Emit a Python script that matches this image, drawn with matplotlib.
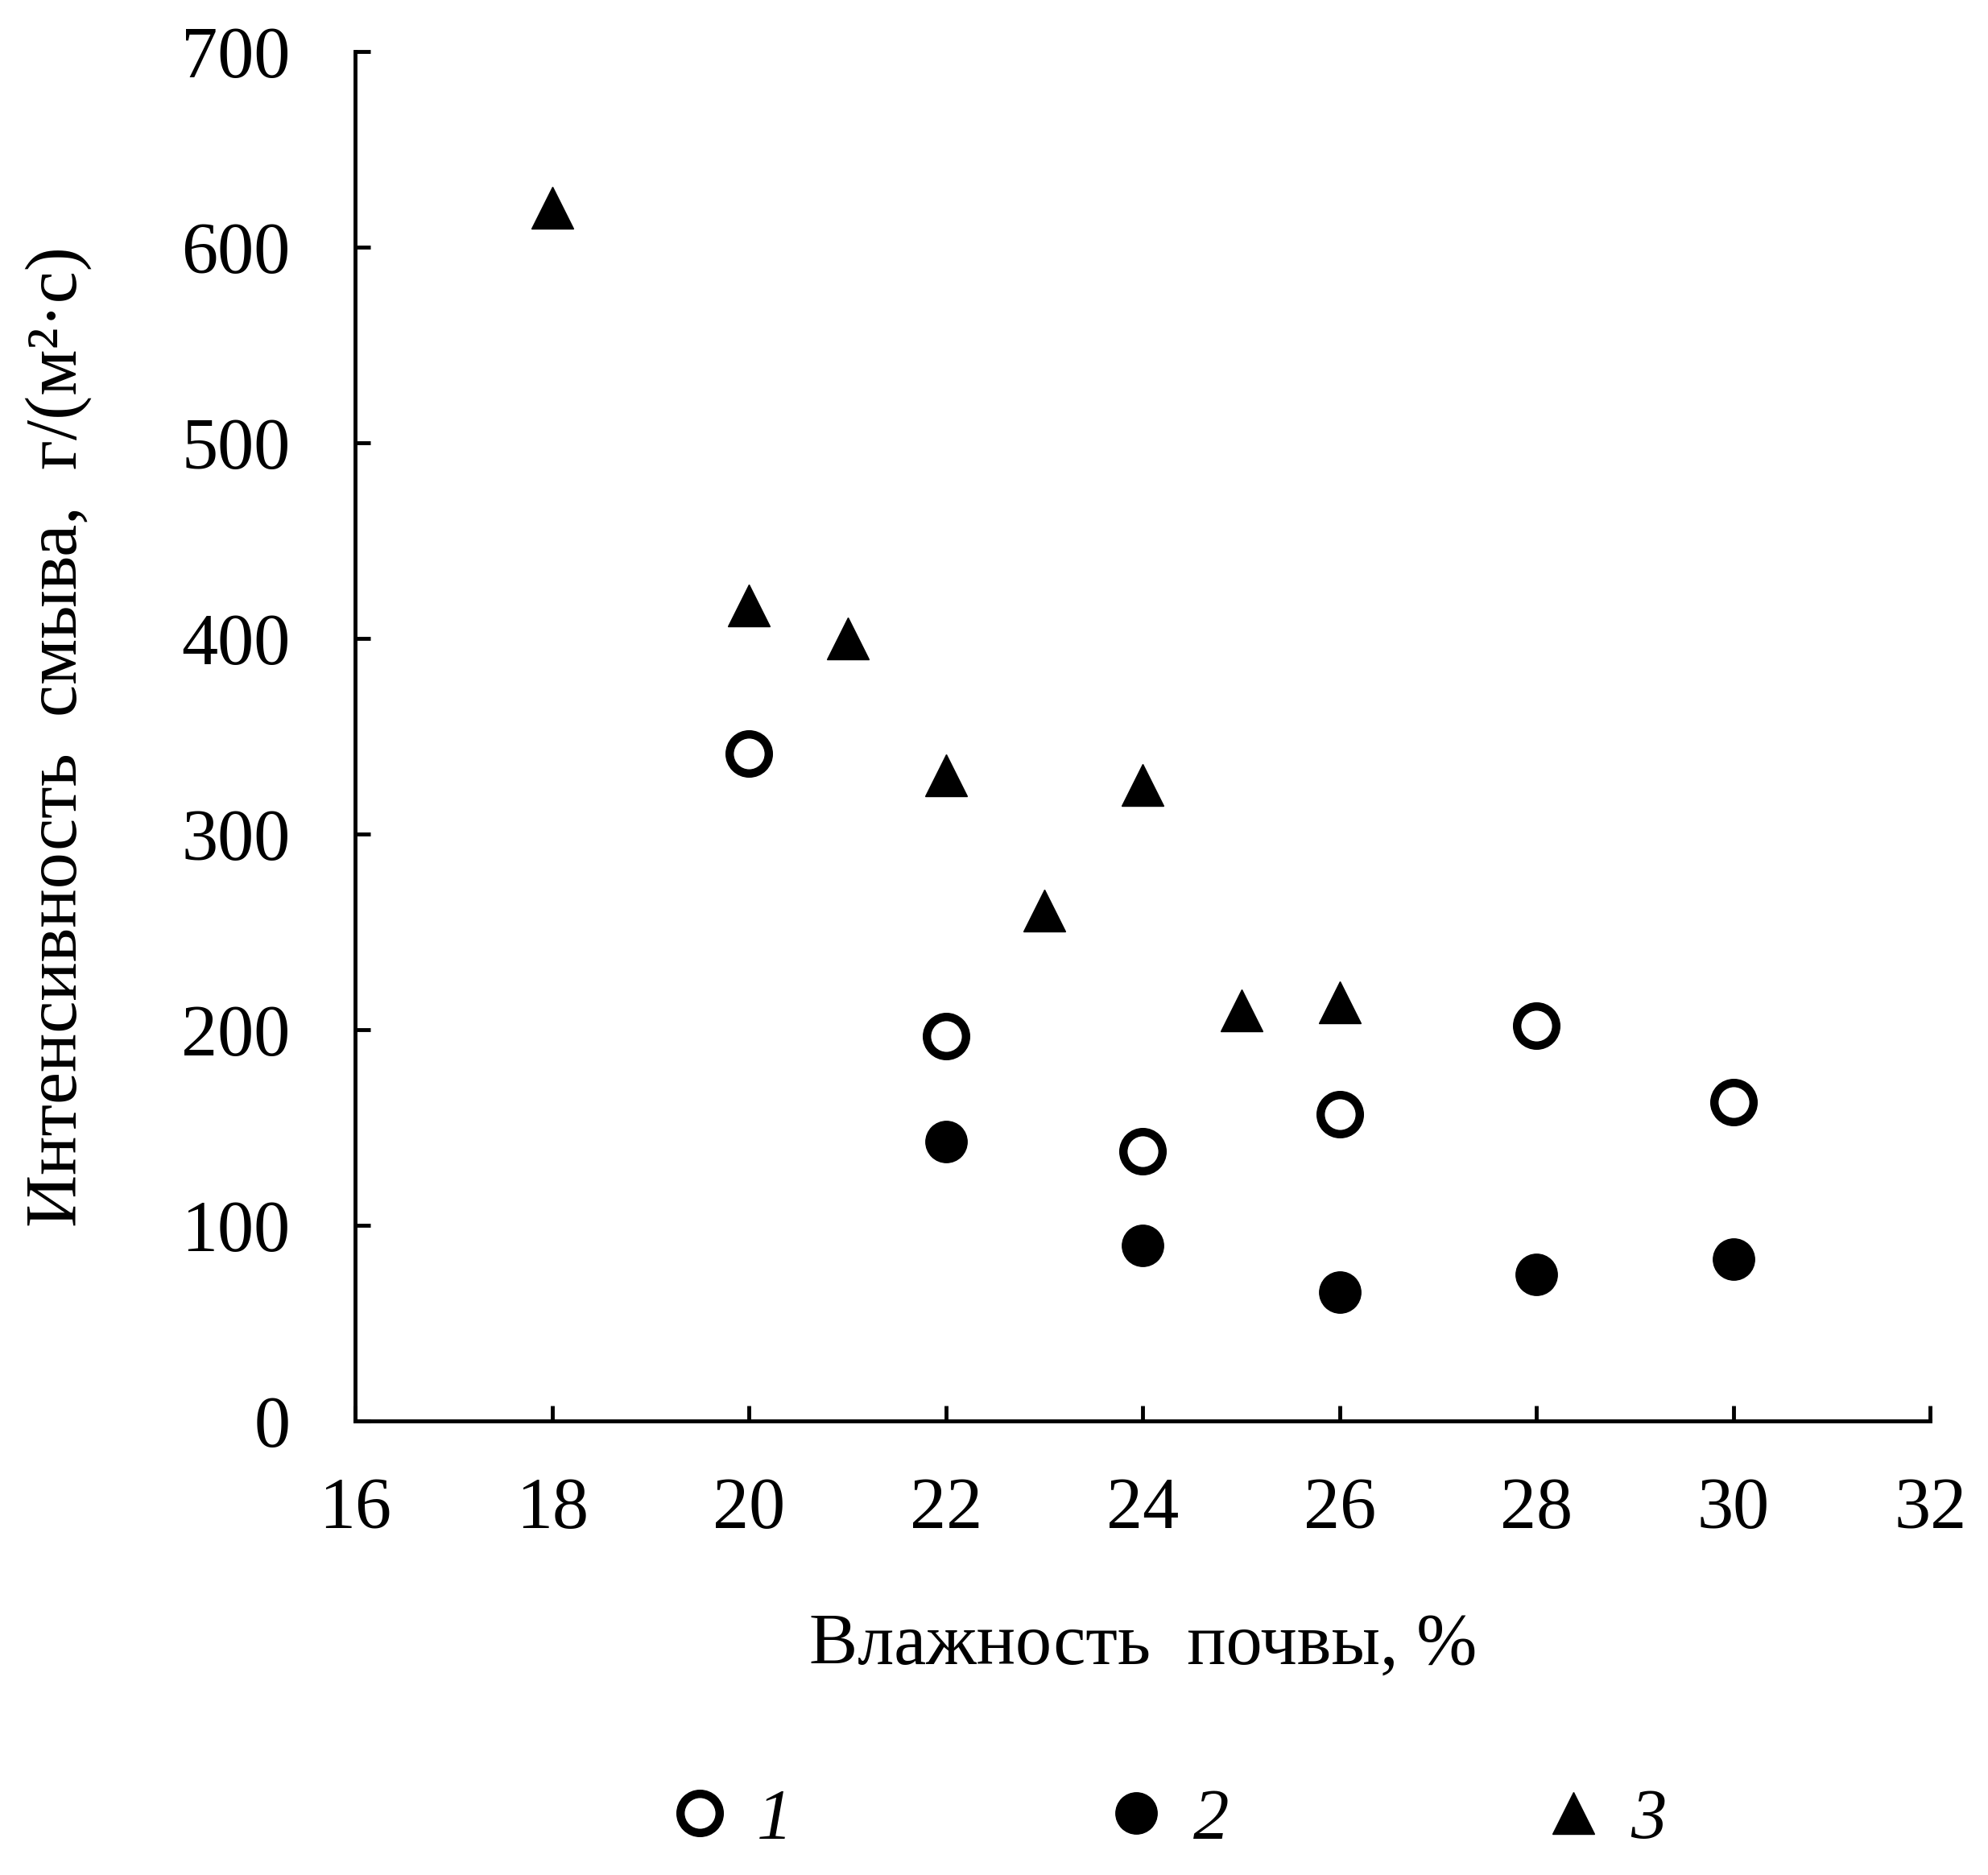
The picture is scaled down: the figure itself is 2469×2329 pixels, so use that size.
import matplotlib

matplotlib.use("Agg")

import matplotlib.pyplot as plt

# soil moisture, %
moisture_1 = [20, 22, 24, 26, 28, 30]
washout_1 = [341, 197, 138, 157, 202, 163]

moisture_2 = [22, 24, 26, 28, 30]
washout_2 = [143, 90, 66, 75, 83]

moisture_3 = [18, 20, 21, 22, 23, 24, 25, 26]
washout_3 = [620, 417, 400, 330, 261, 325, 210, 214]

x_ticks = [16, 18, 20, 22, 24, 26, 28, 30, 32]
y_ticks = [0, 100, 200, 300, 400, 500, 600, 700]
legend_labels = ["1", "2", "3"]

plt.rcParams["font.family"] = ["Liberation Serif", "DejaVu Serif"]

fig = plt.figure(figsize=(24.69, 23.29), dpi=100)
fig.patch.set_facecolor("white")
ax = fig.add_axes([0.1787, 0.242, 0.7923, 0.7306])

h1, = ax.plot(moisture_1, washout_1, linestyle="none", marker="o",
              markersize=35, markerfacecolor="white", markeredgecolor="black",
              markeredgewidth=7.5, clip_on=False)
h2, = ax.plot(moisture_2, washout_2, linestyle="none", marker="o",
              markersize=37, color="black", clip_on=False)
h3, = ax.plot(moisture_3, washout_3, linestyle="none", marker="^",
              markersize=38, color="black", clip_on=False)

ax.set_xlim(16, 32)
ax.set_ylim(0, 700)
ax.set_xticks(x_ticks)
ax.set_yticks(y_ticks)

for side in ("top", "right"):
    ax.spines[side].set_visible(False)
for side in ("left", "bottom"):
    ax.spines[side].set_linewidth(3.5)

ax.tick_params(axis="both", direction="in", length=14, width=3.5,
               labelsize=65, colors="black")
ax.tick_params(axis="x", pad=50)
ax.tick_params(axis="y", pad=58)

ax.set_xlabel("Влажность  почвы, %", fontsize=65, labelpad=62)
ax.set_ylabel("Интенсивность  смыва,  г/(м²·с)", fontsize=65, labelpad=80)

fig.legend(
    [h1, h2, h3],
    legend_labels,
    loc="center",
    bbox_to_anchor=(0.586, 0.029),
    ncol=3,
    frameon=False,
    handlelength=1.0,
    handletextpad=0.3,
    columnspacing=4.3,
    prop={"family": "Liberation Serif", "style": "italic", "size": 64},
)

fig.savefig("out.png", dpi=100, facecolor="white")
